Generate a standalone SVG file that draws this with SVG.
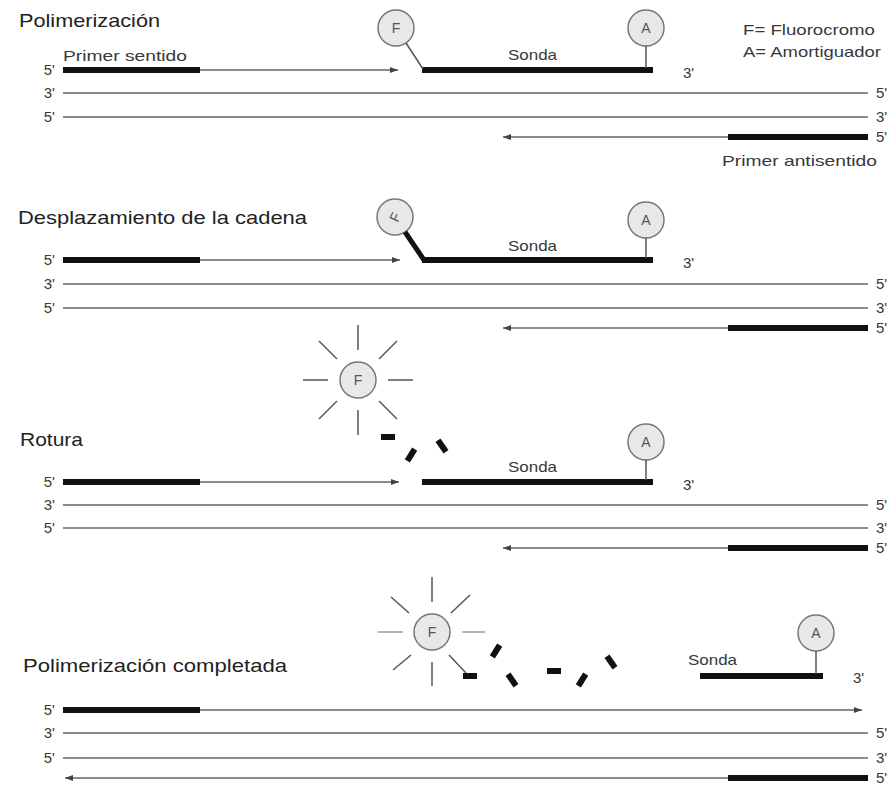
<svg xmlns="http://www.w3.org/2000/svg" width="893" height="786" viewBox="0 0 893 786">
  <style>
    .bg { fill: #ffffff; }
    .title { font-family: "Liberation Sans", Arial, sans-serif; font-size: 19px; fill: #222; }
    .lbl { font-family: "Liberation Sans", Arial, sans-serif; font-size: 15px; fill: #383838; }
    .end { font-family: "Liberation Sans", Arial, sans-serif; font-size: 15px; fill: #383838; }
    .endL { text-anchor: end; }
    .thin { stroke: #666; stroke-width: 1.3; fill: none; }
    .thick { stroke: #111; stroke-width: 6; fill: none; }
    .link { stroke: #555; stroke-width: 1.5; fill: none; }
    .circ { fill: #e8e8e8; stroke: #777; stroke-width: 1.5; }
    .letter { font-family: "Liberation Sans", Arial, sans-serif; font-size: 14px; fill: #555; text-anchor: middle; }
    .ray { stroke: #555; stroke-width: 1.5; }
    .ray-soft { stroke: #aaa; stroke-width: 1.8; }
    .frag { fill: #111; }
  </style>
  <defs>
    <marker id="head" markerUnits="userSpaceOnUse" markerWidth="9" markerHeight="7" refX="8" refY="3" orient="auto">
      <path d="M0,0 L8,3 L0,6 z" fill="#444"/>
    </marker>
    <rect id="frag" class="frag" x="-7" y="-3" width="14" height="6"/>
    <!-- eight rays between radius 30 and 55 -->
    <g id="rays">
      <line class="ray" x1="0" y1="-30" x2="0" y2="-55"/>
      <line class="ray" x1="0" y1="30" x2="0" y2="55"/>
      <line class="ray" x1="-30" y1="0" x2="-55" y2="0"/>
      <line class="ray" x1="30" y1="0" x2="55" y2="0"/>
      <line class="ray" x1="-21" y1="-21" x2="-39" y2="-39"/>
      <line class="ray" x1="21" y1="-21" x2="39" y2="-39"/>
      <line class="ray" x1="-21" y1="21" x2="-39" y2="39"/>
      <line class="ray" x1="21" y1="21" x2="39" y2="39"/>
    </g>
  </defs>
  <rect class="bg" x="0" y="0" width="893" height="786"/>

  <!-- Panel 1: Polimerización -->
  <g id="panel1">
    <text id="t1" class="title" x="19" y="27" textLength="141" lengthAdjust="spacingAndGlyphs">Polimerización</text>
    <g id="legend">
      <text class="lbl" x="743" y="35" textLength="132" lengthAdjust="spacingAndGlyphs">F= Fluorocromo</text>
      <text class="lbl" x="743" y="57" textLength="138" lengthAdjust="spacingAndGlyphs">A= Amortiguador</text>
    </g>
    <g id="p1-labels">
      <text class="lbl" x="63" y="61" textLength="124" lengthAdjust="spacingAndGlyphs">Primer sentido</text>
      <text class="end endL" x="55" y="75">5'</text>
      <text class="end endL" x="55" y="98">3'</text>
      <text class="end endL" x="55" y="122">5'</text>
      <text class="end" x="876" y="98">5'</text>
      <text class="end" x="876" y="122">3'</text>
      <text class="end" x="876" y="142">5'</text>
      <text class="lbl" x="722" y="166" textLength="155" lengthAdjust="spacingAndGlyphs">Primer antisentido</text>
    </g>
    <g id="p1-fluor">
      <circle class="circ" cx="396" cy="28" r="18"/>
      <text class="letter" x="396" y="33">F</text>
    </g>
    <g id="p1-probe">
      <text class="lbl" x="508" y="60" textLength="49" lengthAdjust="spacingAndGlyphs">Sonda</text>
      <line class="thick" x1="422" y1="70" x2="653" y2="70"/>
      <text class="end" x="683" y="78">3'</text>
    </g>
    <g id="p1-quench">
      <circle class="circ" cx="646" cy="28" r="18"/>
      <text class="letter" x="646" y="33">A</text>
    </g>
    <g id="p1-connectors">
      <line class="thick" x1="63" y1="70" x2="200" y2="70"/>
      <line class="thin" x1="200" y1="70" x2="398" y2="70" marker-end="url(#head)"/>
      <line class="link" x1="406" y1="43" x2="423" y2="69"/>
      <line class="link" x1="646" y1="46" x2="646" y2="68"/>
      <line class="thin" x1="63" y1="93" x2="868" y2="93"/>
      <line class="thin" x1="63" y1="117" x2="868" y2="117"/>
      <line class="thin" x1="728" y1="137" x2="503" y2="137" marker-end="url(#head)"/>
      <line class="thick" x1="728" y1="137" x2="868" y2="137"/>
    </g>
  </g>

  <!-- Panel 2: Desplazamiento de la cadena -->
  <g id="panel2">
    <text id="t2" class="title" x="18" y="224" textLength="289" lengthAdjust="spacingAndGlyphs">Desplazamiento de la cadena</text>
    <g id="p2-labels">
      <text class="end endL" x="55" y="265">5'</text>
      <text class="end endL" x="55" y="289">3'</text>
      <text class="end endL" x="55" y="313">5'</text>
      <text class="end" x="876" y="289">5'</text>
      <text class="end" x="876" y="313">3'</text>
      <text class="end" x="876" y="333">5'</text>
    </g>
    <g id="p2-fluor">
      <circle class="circ" cx="395" cy="217" r="18"/>
      <text class="letter" x="395" y="222" transform="rotate(-65 395 217)">F</text>
    </g>
    <g id="p2-probe">
      <text class="lbl" x="508" y="251" textLength="49" lengthAdjust="spacingAndGlyphs">Sonda</text>
      <line class="thick" x1="422" y1="260" x2="653" y2="260"/>
      <text class="end" x="683" y="268">3'</text>
    </g>
    <g id="p2-quench">
      <circle class="circ" cx="646" cy="220" r="18"/>
      <text class="letter" x="646" y="225">A</text>
    </g>
    <g id="p2-connectors">
      <line class="thick" x1="63" y1="260" x2="200" y2="260"/>
      <line class="thin" x1="200" y1="260" x2="400" y2="260" marker-end="url(#head)"/>
      <line stroke="#111" stroke-width="5" x1="405" y1="232" x2="424" y2="260"/>
      <line class="link" x1="646" y1="238" x2="646" y2="258"/>
      <line class="thin" x1="63" y1="284" x2="868" y2="284"/>
      <line class="thin" x1="63" y1="308" x2="868" y2="308"/>
      <line class="thin" x1="728" y1="328" x2="503" y2="328" marker-end="url(#head)"/>
      <line class="thick" x1="728" y1="328" x2="868" y2="328"/>
    </g>
  </g>

  <!-- Panel 3: Rotura -->
  <g id="panel3">
    <text id="t3" class="title" x="20" y="446" textLength="63" lengthAdjust="spacingAndGlyphs">Rotura</text>
    <g id="p3-labels">
      <text class="end endL" x="55" y="487">5'</text>
      <text class="end endL" x="55" y="510">3'</text>
      <text class="end endL" x="55" y="533">5'</text>
      <text class="end" x="876" y="510">5'</text>
      <text class="end" x="876" y="533">3'</text>
      <text class="end" x="876" y="553">5'</text>
    </g>
    <g id="p3-fluor">
      <use href="#rays" transform="translate(358 380)"/>
      <circle class="circ" cx="358" cy="380" r="18"/>
      <text class="letter" x="358" y="385">F</text>
    </g>
    <g id="p3-fragments">
      <use href="#frag" transform="translate(388 437)"/>
      <use href="#frag" transform="translate(411 455) rotate(-58)"/>
      <use href="#frag" transform="translate(442 446) rotate(55)"/>
    </g>
    <g id="p3-probe">
      <text class="lbl" x="508" y="472" textLength="49" lengthAdjust="spacingAndGlyphs">Sonda</text>
      <line class="thick" x1="422" y1="482" x2="653" y2="482"/>
      <text class="end" x="683" y="490">3'</text>
    </g>
    <g id="p3-quench">
      <circle class="circ" cx="646" cy="442" r="18"/>
      <text class="letter" x="646" y="447">A</text>
    </g>
    <g id="p3-connectors">
      <line class="thick" x1="63" y1="482" x2="200" y2="482"/>
      <line class="thin" x1="200" y1="482" x2="399" y2="482" marker-end="url(#head)"/>
      <line class="link" x1="646" y1="460" x2="646" y2="480"/>
      <line class="thin" x1="63" y1="505" x2="868" y2="505"/>
      <line class="thin" x1="63" y1="528" x2="868" y2="528"/>
      <line class="thin" x1="728" y1="548" x2="503" y2="548" marker-end="url(#head)"/>
      <line class="thick" x1="728" y1="548" x2="868" y2="548"/>
    </g>
  </g>

  <!-- Panel 4: Polimerización completada -->
  <g id="panel4">
    <text id="t4" class="title" x="23" y="672" textLength="264" lengthAdjust="spacingAndGlyphs">Polimerización completada</text>
    <g id="p4-labels">
      <text class="end endL" x="55" y="715">5'</text>
      <text class="end endL" x="55" y="738">3'</text>
      <text class="end endL" x="55" y="763">5'</text>
      <text class="end" x="876" y="738">5'</text>
      <text class="end" x="876" y="763">3'</text>
      <text class="end" x="876" y="783">5'</text>
    </g>
    <g id="p4-fluor">
      <line class="ray" x1="432" y1="602" x2="432" y2="577"/>
      <line class="ray" x1="432" y1="662" x2="432" y2="686"/>
      <line class="ray-soft" x1="403" y1="632" x2="378" y2="632"/>
      <line class="ray-soft" x1="462" y1="632" x2="485" y2="632"/>
      <line class="ray" x1="409" y1="613" x2="391" y2="597"/>
      <line class="ray" x1="451" y1="613" x2="470" y2="595"/>
      <line class="ray" x1="411" y1="655" x2="393" y2="670"/>
      <line class="ray" x1="449" y1="655" x2="466" y2="673"/>
      <circle class="circ" cx="432" cy="632" r="18"/>
      <text class="letter" x="432" y="637">F</text>
    </g>
    <g id="p4-fragments">
      <use href="#frag" transform="translate(470 676)"/>
      <use href="#frag" transform="translate(496 651) rotate(-58)"/>
      <use href="#frag" transform="translate(512 680) rotate(55)"/>
      <use href="#frag" transform="translate(554 671)"/>
      <use href="#frag" transform="translate(582 680) rotate(-58)"/>
      <use href="#frag" transform="translate(611 662) rotate(55)"/>
    </g>
    <g id="p4-probe">
      <text class="lbl" x="688" y="665" textLength="49" lengthAdjust="spacingAndGlyphs">Sonda</text>
      <line class="thick" x1="700" y1="676" x2="823" y2="676"/>
      <text class="end" x="853" y="683">3'</text>
    </g>
    <g id="p4-quench">
      <circle class="circ" cx="816" cy="633" r="18"/>
      <text class="letter" x="816" y="638">A</text>
    </g>
    <g id="p4-connectors">
      <line class="thick" x1="63" y1="710" x2="200" y2="710"/>
      <line class="thin" x1="200" y1="710" x2="862" y2="710" marker-end="url(#head)"/>
      <line class="link" x1="816" y1="651" x2="816" y2="674"/>
      <line class="thin" x1="63" y1="733" x2="868" y2="733"/>
      <line class="thin" x1="63" y1="758" x2="868" y2="758"/>
      <line class="thin" x1="728" y1="778" x2="65" y2="778" marker-end="url(#head)"/>
      <line class="thick" x1="728" y1="778" x2="868" y2="778"/>
    </g>
  </g>
</svg>
